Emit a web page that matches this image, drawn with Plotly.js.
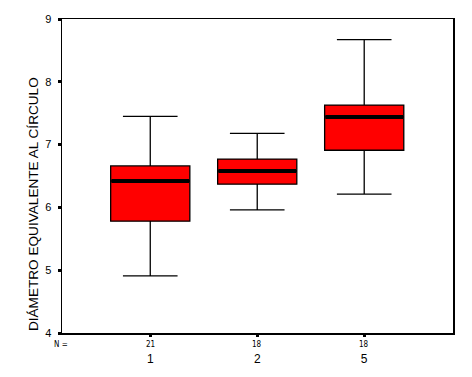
<!DOCTYPE html>
<html>
<head>
<meta charset="utf-8">
<script src="https://cdn.plot.ly/plotly-3.0.1.min.js"></script>
<style>html,body{margin:0;padding:0;background:#fff;}#chart{width:472px;height:377px;}</style>
</head>
<body>
<div id="chart"></div>
<script>
const categories = ["1", "2", "5"];
const counts = [21, 18, 18];
const lowerWhisker = [4.91, 5.96, 6.21];
const q1Values = [5.78, 6.37, 6.91];
const medianValues = [6.42, 6.58, 7.44];
const q3Values = [6.66, 6.77, 7.63];
const upperWhisker = [7.45, 7.18, 8.67];
const yTicks = [4, 5, 6, 7, 8, 9];
const yTitle = "DIÁMETRO EQUIVALENTE AL CÍRCULO";

const idx = categories.map((c, i) => i);

const boxTrace = {
  type: "box",
  x: idx,
  q1: q1Values,
  median: medianValues,
  q3: q3Values,
  lowerfence: lowerWhisker,
  upperfence: upperWhisker,
  width: 0.74,
  whiskerwidth: 0.69,
  fillcolor: "#ff0000",
  line: {color: "#000000", width: 1.3},
  boxpoints: false,
  hoverinfo: "skip",
  showlegend: false
};

const medianTrace = {
  type: "scatter",
  mode: "markers",
  x: idx,
  y: medianValues,
  marker: {symbol: "line-ew", size: 55.5, line: {color: "#000000", width: 4}},
  hoverinfo: "skip",
  showlegend: false,
  cliponaxis: false
};

const annotations = counts.map((n, i) => ({
  x: i, xref: "x", y: -0.015, yref: "paper", yanchor: "top",
  text: String(n), showarrow: false,
  font: {family: "DejaVu Sans Condensed, Arial", size: 8, color: "#000"}
}));
annotations.push({
  x: 0, xref: "paper", xanchor: "center", xshift: -1, y: -0.015, yref: "paper", yanchor: "top",
  text: "N =", showarrow: false,
  font: {family: "DejaVu Sans Condensed, Arial", size: 8, color: "#000"}
});
annotations.push({
  x: -0.074, xref: "paper", xanchor: "center", y: 0, yref: "paper", yanchor: "bottom",
  text: yTitle, textangle: -90, showarrow: false,
  font: {family: "Liberation Sans, Arial", size: 13.6, color: "#000"}
});

const layout = {
  width: 472, height: 377,
  margin: {l: 62, r: 19, t: 19, b: 44},
  paper_bgcolor: "#fff", plot_bgcolor: "#fff",
  showlegend: false,
  font: {family: "Liberation Sans, Arial", color: "#000"},
  xaxis: {
    range: [-0.825, 2.83],
    tickvals: idx, ticktext: categories,
    ticks: "outside", ticklen: 2, tickwidth: 3, tickcolor: "#000",
    ticklabelstandoff: 12,
    tickfont: {size: 12, family: "Liberation Sans, Arial"},
    showline: true, linecolor: "#000", linewidth: 1.5, mirror: true,
    showgrid: false, zeroline: false, fixedrange: true
  },
  yaxis: {
    range: [4, 9],
    tickvals: yTicks,
    ticks: "outside", ticklen: 3, tickwidth: 3, tickcolor: "#000",
    tickfont: {size: 11, family: "Liberation Sans, Arial"},
    ticklabelstandoff: 4,
    showline: true, linecolor: "#000", linewidth: 1.5, mirror: true,
    showgrid: false, zeroline: false, fixedrange: true
  },
  annotations: annotations
};

Plotly.newPlot("chart", [boxTrace, medianTrace], layout, {staticPlot: true, displayModeBar: false});
</script>
</body>
</html>
